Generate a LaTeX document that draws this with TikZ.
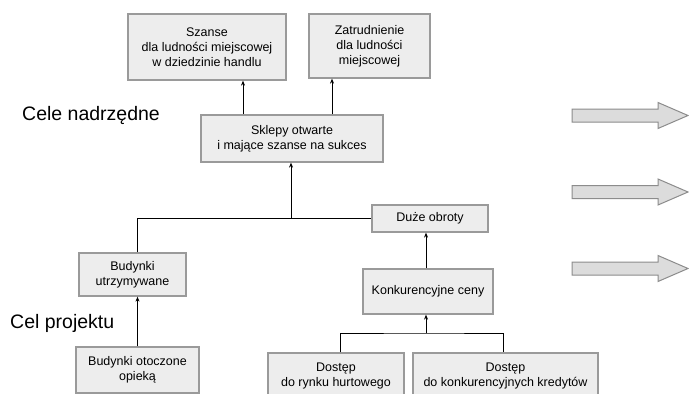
\documentclass[tikz,border=0pt]{standalone}
\usepackage{fontspec}
\setmainfont{Liberation Sans}
\usetikzlibrary{arrows.meta}
\definecolor{boxfill}{HTML}{EDEDED}
\definecolor{boxline}{HTML}{9A9A9A}
\definecolor{bigfill}{HTML}{DCDCDC}
\definecolor{bigline}{HTML}{8C8C8C}
\tikzset{
  x=1pt, y=-1pt,
  goalbox/.style={draw=boxline, line width=1.3pt, fill=boxfill, rectangle,
    align=center, inner sep=0pt, font=\fontsize{12.5}{15.2}\selectfont},
  link/.style={draw=black, line width=0.7pt},
  arr/.style={link, -{Stealth[length=5pt,width=4pt]}},
  bigarrow/.style={draw=bigline, line width=1pt, fill=bigfill, line join=miter},
  levellabel/.style={anchor=west, inner sep=0pt, font=\fontsize{19.5}{22}\selectfont}
}
\begin{document}
\begin{tikzpicture}
\useasboundingbox (0,0) rectangle (689,394);
\clip (0,0) rectangle (689,394);
\fill[white] (0,0) rectangle (689,394);

% goal boxes
\node[goalbox, minimum width=158pt, minimum height=66pt] (szanse) at (207,47)
  {Szanse\\dla ludności miejscowej\\w dziedzinie handlu};
\node[goalbox, minimum width=121pt, minimum height=64pt] (zatr) at (369.5,46)
  {Zatrudnienie\\dla ludności\\miejscowej};
\node[goalbox, minimum width=182pt, minimum height=47pt] (sklepy) at (292,138.5)
  {Sklepy otwarte\\i mające szanse na sukces};
\node[goalbox, minimum width=116pt, minimum height=27pt] (obroty) at (430,218.5)
  {Duże obroty};
\node[goalbox, minimum width=107pt, minimum height=43pt] (utrz) at (132.5,274.5)
  {Budynki\\utrzymywane};
\node[goalbox, minimum width=123pt, minimum height=46pt] (opieka) at (137.5,370)
  {Budynki otoczone\\opieką};
\node[goalbox, minimum width=130pt, minimum height=45pt] (ceny) at (428,291.5)
  {Konkurencyjne ceny};
\node[goalbox, minimum width=136pt, minimum height=46pt] (hurt) at (336,376)
  {Dostęp\\do rynku hurtowego};
\node[goalbox, minimum width=185pt, minimum height=46pt] (kred) at (505.5,376)
  {Dostęp\\do konkurencyjnych kredytów};

% level labels
\node[levellabel] (nadrz) at (22,115) {Cele nadrzędne};
\node[levellabel] (projekt) at (10,323) {Cel projektu};

% junction points
\coordinate (jtop) at (291,218);
\coordinate (jbot) at (426,333);

% connectors
\draw[arr] ([xshift=-49pt]sklepy.north) -- ([xshift=-49pt]sklepy.north |- szanse.south);
\draw[arr] ([xshift=40pt]sklepy.north) -- ([xshift=40pt]sklepy.north |- zatr.south);
\draw[link] ([xshift=4.5pt]utrz.north) |- (obroty.west);
\draw[arr] (jtop) -- (jtop |- sklepy.south);
\draw[arr] (opieka.north) -- (opieka.north |- utrz.south);
\draw[arr] (jbot |- ceny.north) -- (jbot |- obroty.south);
\draw[link] ([xshift=4pt]hurt.north) |- (jbot) -| ([xshift=-2.5pt]kred.north);
\draw[arr] (jbot) -- (jbot |- ceny.south);

% block arrows on the right
\foreach \yc in {115.5,192,268.5} {
  \draw[bigarrow] (572,\yc-6.5) -- (658,\yc-6.5) -- (658,\yc-13) -- (688,\yc)
    -- (658,\yc+13) -- (658,\yc+6.5) -- (572,\yc+6.5) -- cycle;
}
\end{tikzpicture}
\end{document}
